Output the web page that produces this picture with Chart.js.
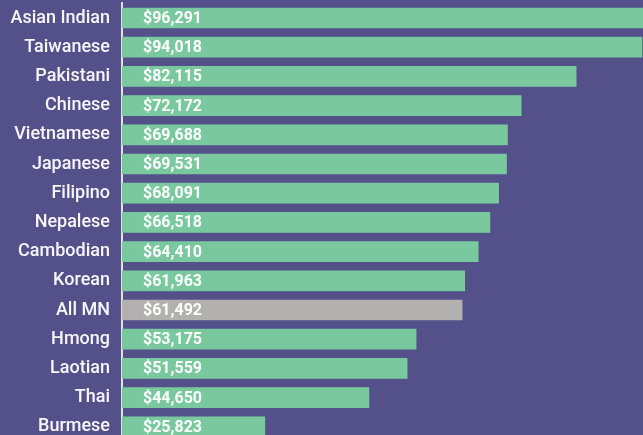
<!DOCTYPE html>
<html>
<head>
<meta charset="utf-8">
<script src="https://cdn.jsdelivr.net/npm/chart.js@4"></script>
<style>
  html, body { margin: 0; padding: 0; background: #53508A; overflow: hidden; }
  #wrap { width: 643px; height: 435px; position: relative; overflow: hidden; }
  #c { position: absolute; left: 0; top: 0; }
</style>
</head>
<body>
<div id="wrap"><canvas id="c" width="643" height="442"></canvas></div>
<script>
const categories = ["Asian Indian", "Taiwanese", "Pakistani", "Chinese", "Vietnamese", "Japanese", "Filipino", "Nepalese", "Cambodian", "Korean", "All MN", "Hmong", "Laotian", "Thai", "Burmese"];
const incomes = [96291, 94018, 82115, 72172, 69688, 69531, 68091, 66518, 64410, 61963, 61492, 53175, 51559, 44650, 25823];
const highlightCategory = "All MN";

const GREEN = "#7AC89E";
const GRAY = "#B2B1AF";
const barColors = categories.map(c => c === highlightCategory ? GRAY : GREEN);

const valueLabels = {
  id: "valueLabels",
  afterDatasetsDraw(chart) {
    const ctx = chart.ctx;
    const meta = chart.getDatasetMeta(0);
    const x0 = chart.scales.x.getPixelForValue(0);
    ctx.save();
    ctx.fillStyle = "#FFFFFF";
    ctx.font = "bold 16px Roboto";
    ctx.textAlign = "left";
    ctx.textBaseline = "middle";
    meta.data.forEach((bar, i) => {
      const v = chart.data.datasets[0].data[i];
      ctx.fillText("$" + v.toLocaleString("en-US"), x0 + 21, bar.y + 1);
    });
    ctx.restore();
  }
};

new Chart(document.getElementById("c"), {
  type: "bar",
  data: {
    labels: categories,
    datasets: [{
      data: incomes,
      backgroundColor: barColors,
      borderWidth: 0,
      barThickness: 20
    }]
  },
  options: {
    indexAxis: "y",
    responsive: false,
    animation: false,
    events: [],
    layout: { padding: { top: 3.4, bottom: 0.6, left: 0, right: 0 } },
    plugins: { legend: { display: false }, tooltip: { enabled: false } },
    scales: {
      x: {
        display: false,
        min: 0,
        max: 94200
      },
      y: {
        afterFit(scale) {
          scale.width = 122;
          scale.paddingTop = 0;
          scale.paddingBottom = 0;
        },
        grid: { display: false, drawTicks: false },
        border: { display: true, color: "#E2E1EA", width: 2 },
        ticks: {
          color: "#F7F7FA",
          autoSkip: false,
          padding: 12,
          font: { family: "Roboto", size: 18, weight: "500" }
        }
      }
    }
  },
  plugins: [valueLabels]
});
</script>
</body>
</html>
